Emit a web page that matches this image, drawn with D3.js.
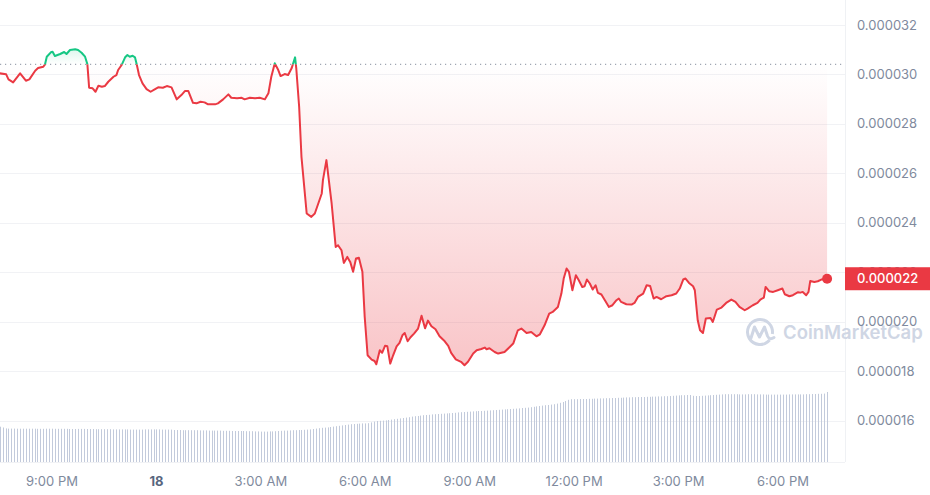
<!DOCTYPE html>
<html><head><meta charset="utf-8">
<script src="https://cdn.jsdelivr.net/npm/d3@7"></script>
<style>
html,body{margin:0;padding:0;background:#fff;}
svg{display:block;font-family:Inter,"Noto Sans",sans-serif;}
</style></head><body>
<svg id="chart" width="930" height="495"></svg>
<script>
// ---------- DATA ----------
const startTime = new Date(2024, 0, 17, 19, 20);           // window start
const priceMinutes = [                                       // minutes after startTime
  10,21,25,33,45,55,61,71,76,85,
  88,91,98,101,105,114,121,125,131,140,
  145,151,157,161,164,170,175,180,186,191,
  197,206,211,214,220,226,230,234,239,243,
  246,250,256,263,270,277,283,291,298,306,
  315,323,329,335,343,349,356,363,369,381,
  386,395,404,409,419,427,432,441,450,458,
  467,473,478,484,490,494,501,507,513,519,
  521,526,530,539,547,553,565,567,573,582,
  589,593,599,603,609,614,619,624,629,635,
  639,644,651,656,659,665,669,674,678,683,
  688,694,699,704,708,713,718,724,731,737,
  743,748,754,761,768,777,783,788,796,805,
  811,817,826,832,840,846,849,854,863,869,
  880,889,895,903,909,918,926,935,941,949,
  957,963,972,978,982,987,991,997,1003,1008,
  1014,1018,1022,1027,1032,1037,1041,1047,1053,1060,
  1066,1073,1077,1081,1090,1099,1104,1110,1119,1125,
  1131,1137,1142,1150,1159,1168,1176,1182,1188,1192,
  1198,1205,1208,1213,1217,1222,1227,1235,1239,1246,
  1254,1262,1271,1278,1285,1294,1299,1308,1316,1321,
  1327,1330,1336,1343,1351,1359,1363,1371,1377,1386,
  1390,1394,1400,1404,1407,1414,1420,1426,1436
];
const prices = [
  30.044e-6,30.004e-6,29.801e-6,29.680e-6,30.044e-6,29.745e-6,29.801e-6,30.150e-6,30.259e-6,30.312e-6,
  30.409e-6,30.717e-6,30.895e-6,30.919e-6,30.745e-6,30.826e-6,30.907e-6,30.826e-6,30.988e-6,31.016e-6,
  30.988e-6,30.878e-6,30.717e-6,30.409e-6,29.461e-6,29.437e-6,29.299e-6,29.542e-6,29.502e-6,29.530e-6,
  29.704e-6,29.906e-6,29.975e-6,30.178e-6,30.380e-6,30.692e-6,30.785e-6,30.717e-6,30.757e-6,30.692e-6,
  30.409e-6,29.975e-6,29.639e-6,29.409e-6,29.299e-6,29.397e-6,29.478e-6,29.461e-6,29.530e-6,29.478e-6,
  28.992e-6,29.166e-6,29.328e-6,29.328e-6,28.854e-6,28.830e-6,28.895e-6,28.870e-6,28.789e-6,28.789e-6,
  28.830e-6,28.992e-6,29.194e-6,29.056e-6,29.032e-6,29.056e-6,28.992e-6,29.056e-6,29.032e-6,29.056e-6,
  28.992e-6,29.234e-6,29.906e-6,30.449e-6,30.178e-6,29.935e-6,30.016e-6,29.975e-6,30.247e-6,30.692e-6,
  30.259e-6,28.692e-6,26.667e-6,24.375e-6,24.238e-6,24.375e-6,25.185e-6,25.724e-6,26.534e-6,24.780e-6,
  23.023e-6,23.092e-6,22.889e-6,22.375e-6,22.618e-6,22.416e-6,22.019e-6,22.553e-6,22.586e-6,22.019e-6,
  20.189e-6,18.638e-6,18.464e-6,18.407e-6,18.274e-6,18.840e-6,18.739e-6,19.023e-6,19.002e-6,18.302e-6,
  18.638e-6,19.002e-6,19.144e-6,19.448e-6,19.541e-6,19.205e-6,19.367e-6,19.516e-6,19.719e-6,20.237e-6,
  19.731e-6,20.043e-6,19.812e-6,19.691e-6,19.407e-6,19.205e-6,19.023e-6,18.739e-6,18.476e-6,18.375e-6,
  18.233e-6,18.375e-6,18.707e-6,18.840e-6,18.893e-6,18.950e-6,18.881e-6,18.921e-6,18.772e-6,18.707e-6,
  18.772e-6,18.974e-6,19.112e-6,19.650e-6,19.719e-6,19.541e-6,19.581e-6,19.407e-6,19.488e-6,19.853e-6,
  20.326e-6,20.391e-6,20.594e-6,21.136e-6,21.743e-6,22.148e-6,22.011e-6,21.270e-6,21.877e-6,21.675e-6,
  21.404e-6,21.432e-6,21.703e-6,21.541e-6,21.298e-6,21.472e-6,21.161e-6,21.096e-6,20.865e-6,20.594e-6,
  20.663e-6,20.865e-6,20.934e-6,20.796e-6,20.703e-6,20.691e-6,20.756e-6,20.999e-6,21.136e-6,21.472e-6,
  21.444e-6,20.934e-6,20.999e-6,20.905e-6,21.027e-6,21.068e-6,21.136e-6,21.339e-6,21.703e-6,21.743e-6,
  21.566e-6,21.432e-6,21.270e-6,20.055e-6,19.650e-6,19.541e-6,20.124e-6,20.148e-6,19.986e-6,20.488e-6,
  20.569e-6,20.756e-6,20.893e-6,20.796e-6,20.594e-6,20.460e-6,20.529e-6,20.663e-6,20.756e-6,20.893e-6,
  20.974e-6,21.404e-6,21.230e-6,21.202e-6,21.270e-6,21.339e-6,21.108e-6,21.027e-6,21.068e-6,21.189e-6,
  21.173e-6,21.202e-6,21.068e-6,21.202e-6,21.646e-6,21.606e-6,21.634e-6,21.703e-6,21.735e-6
];
const baselinePrice = 30.409e-6;                             // price at window open (dotted line)
const volumeStartMinute = 10;
const volumeStepMinutes = 5;
const volumes = [                                            // relative 24h volume per 5-minute bar
  35.3,34.5,33.6,33.4,33.4,33.4,33.3,33.3,33.3,33.3,33.3,33.3,
  33.3,33.2,33.2,33.2,33.3,33.3,33.3,33.2,33.2,33.2,33.2,33.2,
  33.0,33.0,33.0,33.1,33.1,33.1,33.0,33.0,33.0,32.8,32.8,32.8,
  32.8,32.8,32.8,32.6,32.6,32.6,32.6,32.6,32.6,32.4,32.4,32.4,
  32.4,32.4,32.6,32.6,32.6,32.6,32.6,32.6,32.4,32.4,32.4,32.4,
  32.0,32.0,32.0,31.8,31.8,31.8,31.8,31.8,31.8,31.6,31.6,31.6,
  31.4,31.4,31.4,31.4,31.4,31.2,31.2,31.2,31.0,31.0,31.0,31.0,
  31.0,30.8,30.8,30.8,30.6,30.6,30.4,30.4,30.4,30.6,30.6,30.8,
  31.0,31.2,31.4,31.4,31.6,31.8,31.8,32.0,32.0,32.2,32.4,32.6,
  33.0,33.4,33.8,34.2,34.4,34.6,35.0,35.4,35.8,36.2,36.6,37.0,
  37.4,37.8,38.0,38.2,38.4,38.6,38.6,38.8,39.6,40.4,41.0,41.2,
  41.4,41.6,42.0,42.4,42.8,43.2,43.6,44.0,44.4,44.8,45.4,45.8,
  46.0,46.4,46.8,47.0,47.2,47.6,47.8,48.0,48.2,48.4,48.6,48.8,
  49.0,49.2,49.6,49.8,50.0,50.2,50.4,50.6,50.8,51.0,51.0,51.2,
  51.4,51.6,51.8,52.0,52.2,52.4,52.6,52.8,53.0,53.2,53.4,53.6,
  54.0,54.2,54.4,54.8,55.2,55.6,56.0,56.4,56.8,57.0,57.4,57.8,
  58.4,59.2,60.0,61.0,62.2,62.8,62.8,62.8,63.0,63.0,63.0,63.2,
  63.2,63.4,63.4,63.6,63.6,63.8,63.8,64.0,64.0,64.2,64.2,64.4,
  64.6,64.6,64.8,64.8,65.0,65.0,65.0,65.2,65.2,65.4,65.4,65.6,
  65.6,65.8,65.8,66.0,66.2,66.4,66.6,66.8,66.8,67.0,67.0,66.2,
  66.0,66.0,66.2,66.4,66.6,66.8,67.0,67.2,67.4,67.6,67.8,67.8,
  67.8,67.8,67.8,67.6,67.6,67.6,67.8,67.8,67.8,67.6,67.6,67.6,
  67.4,67.4,67.4,67.4,67.4,67.4,67.4,67.4,67.6,67.6,67.6,67.6,
  67.6,67.6,67.8,67.8,68.0,68.0,68.2,68.2,68.4,70.0
];
const yTickValues = [0.000016,0.000018,0.000020,0.000022,0.000024,0.000026,0.000028,0.000030,0.000032];

// ---------- SETUP ----------
const RED = "#ea3943", GREEN = "#16c784", TXT = "#808a9d";
const W = 930, H = 495, plotRight = 845, volBottom = 462;
const addMin = m => new Date(startTime.getTime() + m * 60000);
const priceData = priceMinutes.map((m, i) => ({ t: addMin(m), v: prices[i] }));
const volData = volumes.map((v, i) => ({ t: addMin(volumeStartMinute + i * volumeStepMinutes), v }));

const x = d3.scaleTime()
  .domain([new Date(2024, 0, 17, 21, 0), new Date(2024, 0, 18, 18, 0)])
  .range([52, 783]);
const y = d3.scaleLinear().domain([0.000016, 0.000032]).range([420.5, 25]);
const vy = d3.scaleLinear().domain([0, 70]).range([volBottom, 392]);

const svg = d3.select("#chart");
const defs = svg.append("defs");
const by = y(baselinePrice);

defs.append("clipPath").attr("id", "plot").append("rect")
  .attr("x", 0).attr("y", 0).attr("width", plotRight).attr("height", volBottom);
defs.append("clipPath").attr("id", "above").append("rect")
  .attr("x", 0).attr("y", 0).attr("width", plotRight).attr("height", by);
defs.append("clipPath").attr("id", "below").append("rect")
  .attr("x", 0).attr("y", by).attr("width", plotRight).attr("height", H - by);

const gRed = defs.append("linearGradient").attr("id", "gRed")
  .attr("gradientUnits", "userSpaceOnUse").attr("x1", 0).attr("x2", 0)
  .attr("y1", by).attr("y2", y(0.000018));
gRed.append("stop").attr("offset", 0).attr("stop-color", RED).attr("stop-opacity", 0);
gRed.append("stop").attr("offset", 1).attr("stop-color", RED).attr("stop-opacity", 0.3);
const gGreen = defs.append("linearGradient").attr("id", "gGreen")
  .attr("gradientUnits", "userSpaceOnUse").attr("x1", 0).attr("x2", 0)
  .attr("y1", by).attr("y2", y(0.000031));
gGreen.append("stop").attr("offset", 0).attr("stop-color", GREEN).attr("stop-opacity", 0);
gGreen.append("stop").attr("offset", 1).attr("stop-color", GREEN).attr("stop-opacity", 0.14);

// gridlines
svg.append("g").selectAll("line").data(yTickValues).join("line")
  .attr("x1", 0).attr("x2", plotRight)
  .attr("y1", d => Math.round(y(d)) + 0.5).attr("y2", d => Math.round(y(d)) + 0.5)
  .attr("stroke", "#f1f2f5").attr("stroke-width", 1);
svg.append("line").attr("x1", plotRight + 0.5).attr("x2", plotRight + 0.5)
  .attr("y1", 0).attr("y2", volBottom).attr("stroke", "#eff1f4");
svg.append("line").attr("x1", 0).attr("x2", plotRight).attr("y1", volBottom + 0.5).attr("y2", volBottom + 0.5)
  .attr("stroke", "#f1f2f5");

// volume bars
svg.append("g").attr("clip-path", "url(#plot)")
  .selectAll("line").data(volData).join("line")
  .attr("x1", d => Math.round(x(d.t)) + 0.5).attr("x2", d => Math.round(x(d.t)) + 0.5)
  .attr("y1", volBottom).attr("y2", d => vy(d.v))
  .attr("stroke", "#c2cadb").attr("stroke-width", 1);

// watermark
const wm = svg.append("g").attr("fill", "none").attr("stroke", "#cfd6e4");
const arc = d3.arc().innerRadius(11).outerRadius(14).startAngle(Math.PI * 0.72).endAngle(Math.PI * 2.55);
svg.append("path").attr("d", arc()).attr("transform", "translate(760,332)").attr("fill", "#cfd6e4");
wm.append("path").attr("d", "M751,338 L754.5,327 L759.5,337 L764.5,327 L767.5,336 Q769.5,340.5 774,337.5")
  .attr("stroke-width", 3).attr("stroke-linejoin", "round").attr("stroke-linecap", "round");
svg.append("text").attr("x", 783).attr("y", 339).attr("fill", "#cfd6e4")
  .attr("font-size", 18.5).attr("font-weight", 600).text("CoinMarketCap");

// areas
const area = d3.area().x(d => x(d.t)).y0(by).y1(d => y(d.v));
const plotG = svg.append("g").attr("clip-path", "url(#plot)");
plotG.append("g").attr("clip-path", "url(#below)").append("path")
  .datum(priceData).attr("d", area).attr("fill", "url(#gRed)");
plotG.append("g").attr("clip-path", "url(#above)").append("path")
  .datum(priceData).attr("d", area).attr("fill", "url(#gGreen)");

// baseline dotted
svg.append("line").attr("x1", 0).attr("x2", plotRight).attr("y1", by).attr("y2", by)
  .attr("stroke", "#a0a6b2").attr("stroke-width", 1.2).attr("stroke-dasharray", "1.2,3.8");

// price line
const line = d3.line().x(d => x(d.t)).y(d => y(d.v));
const lineG = svg.append("g").attr("clip-path", "url(#plot)");
lineG.append("g").attr("clip-path", "url(#below)").append("path")
  .datum(priceData).attr("d", line).attr("fill", "none").attr("stroke", RED)
  .attr("stroke-width", 2).attr("stroke-linejoin", "round");
lineG.append("g").attr("clip-path", "url(#above)").append("path")
  .datum(priceData).attr("d", line).attr("fill", "none").attr("stroke", GREEN)
  .attr("stroke-width", 2).attr("stroke-linejoin", "round");

const last = priceData[priceData.length - 1];
svg.append("circle").attr("cx", x(last.t)).attr("cy", y(last.v)).attr("r", 5).attr("fill", RED);

// y axis labels
const fmt = d3.format(".6f");
svg.append("g").selectAll("text").data(yTickValues).join("text")
  .attr("x", 857).attr("y", d => y(d)).attr("dy", "0.35em")
  .attr("fill", TXT).attr("font-size", 13).text(fmt);

// x axis labels
const xTicks = x.ticks(d3.timeHour.every(3));
svg.append("g").selectAll("text").data(xTicks).join("text")
  .attr("x", d => x(d)).attr("y", 481).attr("dy", "0.35em").attr("text-anchor", "middle")
  .attr("font-size", 13)
  .attr("fill", d => d.getHours() === 0 ? "#58667e" : TXT)
  .attr("font-weight", d => d.getHours() === 0 ? 700 : 400)
  .text(d => d.getHours() === 0 ? d3.timeFormat("%-d")(d) : d3.timeFormat("%-I:%M %p")(d));

// current price label
const ly = y(last.v);
svg.append("rect").attr("x", plotRight).attr("y", ly - 11.5).attr("width", W - plotRight).attr("height", 23)
  .attr("fill", RED);
svg.append("text").attr("x", 857).attr("y", ly).attr("dy", "0.35em").attr("fill", "#fff")
  .attr("font-size", 13).attr("font-weight", 500).text(fmt(Math.round(last.v * 1e6) / 1e6));
</script>
</body></html>
